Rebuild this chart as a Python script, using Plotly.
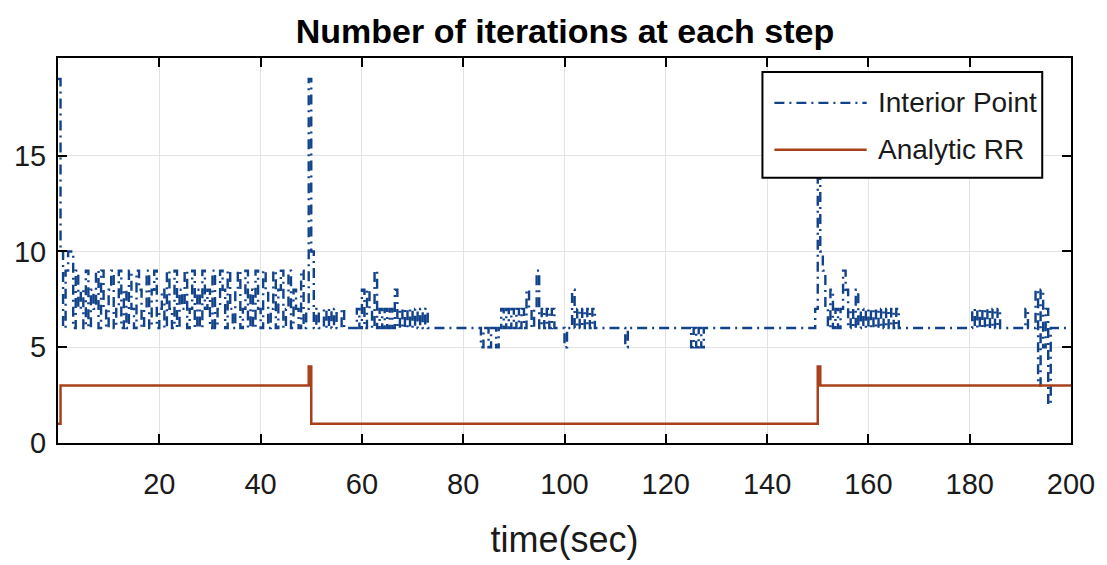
import numpy as np
import plotly.graph_objects as go

# ---------------- data ----------------
step = 0.5  # sampling step (s)

# Interior Point iterations, one value per 0.5 s
ip_000_050 = [
    19, 10, 6, 9, 10, 10,
    6, 9, 7, 8, 6, 9, 6, 8, 7, 9, 6, 9, 7, 6, 8, 9, 6, 7, 9, 6,
    8, 6, 9, 7, 6, 9, 8, 6, 7, 9, 6, 8, 9, 6, 7, 8, 6, 9, 7, 6,
    9, 6, 8, 7, 9, 6, 7, 9, 6, 8, 6, 9, 7, 8, 6, 9, 6, 7, 9, 8,
    6, 9, 7, 6, 8, 9, 6, 7, 9, 6, 8, 6, 9, 7, 6, 9, 8, 6, 7, 9,
    6, 8, 9, 6, 7, 9, 6, 8, 7, 6,
    9, 6, 7, 19,
]
ip_050_100 = [
    10, 6, 7, 6, 6, 7, 6, 7, 6, 7, 6, 6, 7, 6, 6, 6, 6, 6, 7, 6,
    8, 6, 8, 7, 6, 9, 6, 7, 6, 7, 6, 7, 6, 8, 6, 7, 6, 7, 6, 7,
    6, 7, 6, 7, 6, 7, 6, 6, 6, 6, 6, 6, 6, 6, 6, 6, 6, 6, 6, 6,
    6, 6, 6, 6, 6, 6, 6, 5, 6, 6, 5, 6, 6, 5, 6, 7, 6, 7, 6, 7,
    6, 7, 6, 7, 6, 8, 7, 6, 7, 9, 6, 7, 6, 7, 6, 7, 6, 6, 6, 6,
]
ip_100_150 = [
    5, 6, 6, 8, 6, 7, 6, 7, 6, 7, 6, 7, 6, 6, 6, 6, 6, 6, 6, 6,
    6, 6, 6, 6, 5, 6, 6, 6, 6, 6, 6, 6, 6, 6, 6, 6, 6, 6, 6, 6,
    6, 6, 6, 6, 6, 6, 6, 6, 6, 6, 5, 6, 5, 6, 5, 6, 6, 6, 6, 6,
    6, 6, 6, 6, 6, 6, 6, 6, 6, 6, 6, 6, 6, 6, 6, 6, 6, 6, 6, 6,
    6, 6, 6, 6, 6, 6, 6, 6, 6, 6, 6, 6, 6, 6, 6, 6, 6, 6, 6, 7,
]
ip_150_200 = [
    19, 10, 9, 7, 6, 8, 6, 7, 6, 7, 9, 8, 6, 7, 6, 8, 6, 7, 6, 7,
    6, 7, 6, 7, 6, 7, 6, 7, 6, 7, 6, 7, 6, 6, 6, 6, 6, 6, 6, 6,
    6, 6, 6, 6, 6, 6, 6, 6, 6, 6, 6, 6, 6, 6, 6, 6, 6, 6, 6, 6,
    6, 7, 6, 7, 6, 7, 6, 7, 6, 7, 6, 7, 6, 6, 6, 6, 6, 6, 6, 6,
    6, 6, 7, 6, 6, 6, 8, 3, 8, 5, 7, 2, 6, 6, 6, 6, 6, 6, 6, 6,
    6,
]

# Analytic RR iterations (change points)
rr_time = [0, 0.5, 49.5, 50, 150, 150.5, 200]
rr_vals = [1, 3, 4, 1, 4, 3, 3]

x_ticks = [20, 40, 60, 80, 100, 120, 140, 160, 180, 200]
y_ticks = [0, 5, 10, 15]
series_names = ["Interior Point", "Analytic RR"]

# ---------------- figure ----------------
ip_vals = ip_000_050 + ip_050_100 + ip_100_150 + ip_150_200
ip_time = np.arange(len(ip_vals)) * step

IP_COLOR = "#12428a"
RR_COLOR = "#a9401c"
IP_DASH = "10px,5px,2px,5px"
FONT = "Liberation Sans, Arial, sans-serif"

fig = go.Figure()
fig.add_trace(go.Scatter(
    x=ip_time, y=ip_vals, mode="lines", name=series_names[0],
    line=dict(color=IP_COLOR, width=2.4, dash=IP_DASH, shape="hv"),
    showlegend=False,
))
fig.add_trace(go.Scatter(
    x=rr_time, y=rr_vals, mode="lines", name=series_names[1],
    line=dict(color=RR_COLOR, width=2.5, shape="hv"),
    showlegend=False,
))

# manual MATLAB-style legend box
lx0, lx1, ly0, ly1 = 0.6954, 0.9716, 0.6891, 0.9637
fig.add_shape(type="rect", xref="paper", yref="paper", x0=lx0, x1=lx1, y0=ly0, y1=ly1,
              line=dict(color="black", width=2), fillcolor="white", layer="above")
rows = [0.8834, 0.7617]
fig.add_shape(type="line", xref="paper", yref="paper", x0=0.7072, x1=0.7983, y0=rows[0], y1=rows[0],
              line=dict(color=IP_COLOR, width=2.4, dash=IP_DASH), layer="above")
fig.add_shape(type="line", xref="paper", yref="paper", x0=0.7072, x1=0.7983, y0=rows[1], y1=rows[1],
              line=dict(color=RR_COLOR, width=2.5), layer="above")
for name, yy in zip(series_names, rows):
    fig.add_annotation(xref="paper", yref="paper", x=0.8071, y=yy, text=name, showarrow=False,
                       xanchor="left", yanchor="middle",
                       font=dict(family=FONT, size=28, color="#1a1a1a"))

axis_common = dict(
    showline=True, linecolor="black", linewidth=2, mirror="ticks",
    ticks="inside", ticklen=9, tickwidth=2, tickcolor="black",
    showgrid=True, gridcolor="#e3e3e3", gridwidth=1, zeroline=False,
    tickfont=dict(family=FONT, size=29, color="#1a1a1a"),
)
fig.update_xaxes(range=[0, 200], tickmode="array", tickvals=x_ticks,
                 ticklabelstandoff=14,
                 title=dict(text="time(sec)", font=dict(family=FONT, size=36, color="#1a1a1a"), standoff=28),
                 **axis_common)
fig.update_yaxes(range=[0, 20.1], tickmode="array", tickvals=y_ticks,
                 ticklabelstandoff=4, **axis_common)

fig.update_layout(
    width=1107, height=565,
    margin=dict(l=58, r=28, t=58, b=121),
    paper_bgcolor="white", plot_bgcolor="white",
    title=dict(text="<b>Number of iterations at each step</b>", x=0.5104, xanchor="center",
               y=0.945, yanchor="middle", yref="container",
               font=dict(family=FONT, size=34, color="black")),
    showlegend=False,
)

fig.write_html("out.html")
